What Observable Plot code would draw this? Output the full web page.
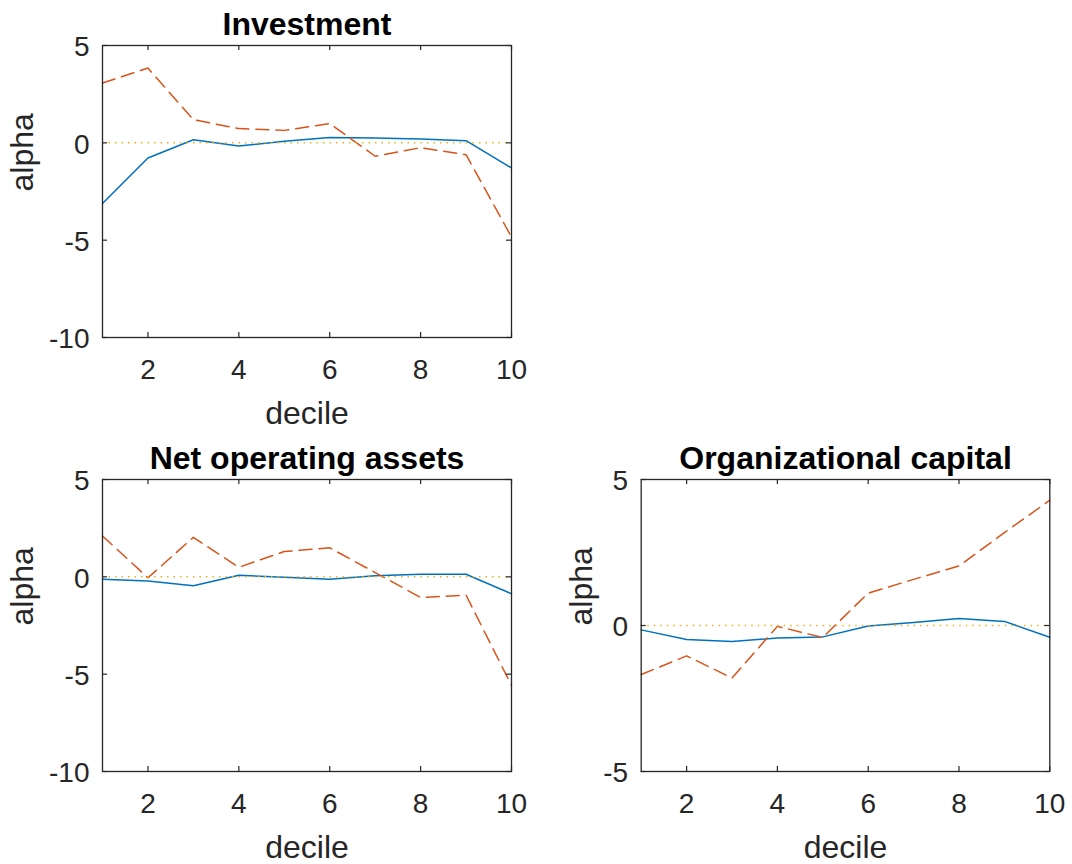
<!DOCTYPE html>
<html>
<head>
<meta charset="utf-8">
<script src="https://cdn.jsdelivr.net/npm/d3@7"></script>
<script src="https://cdn.jsdelivr.net/npm/@observablehq/plot@0.6"></script>
<style>
  html, body { margin: 0; padding: 0; background: #fff; }
  #wrap { position: relative; width: 1072px; height: 864px; background: #fff; overflow: hidden; }
  #wrap > div { position: absolute; }
</style>
</head>
<body>
<div id="wrap">
  <div id="p1" style="left:0px; top:0px;"></div>
  <div id="p2" style="left:0px; top:432px;"></div>
  <div id="p3" style="left:536px; top:432px;"></div>
</div>
<script>
// ---- data ----
const deciles = [1, 2, 3, 4, 5, 6, 7, 8, 9, 10];
const xTicks = [2, 4, 6, 8, 10];

const titles = ["Investment", "Net operating assets", "Organizational capital"];
const xLabel = "decile";
const yLabel = "alpha";

const yTicksWide = [-10, -5, 0, 5];
const yTicksNarrow = [-5, 0, 5];

// Investment
const investmentSolid  = [-3.12, -0.78, 0.16, -0.16, 0.08, 0.27, 0.25, 0.20, 0.11, -1.29];
const investmentDashed = [3.07, 3.84, 1.19, 0.73, 0.64, 0.99, -0.69, -0.25, -0.61, -4.84];

// Net operating assets
const noaSolid  = [-0.12, -0.21, -0.46, 0.08, -0.02, -0.12, 0.05, 0.13, 0.13, -0.87];
const noaDashed = [2.10, -0.05, 2.03, 0.49, 1.30, 1.49, 0.22, -1.06, -0.94, -5.58];

// Organizational capital
const ocSolid  = [-0.15, -0.48, -0.55, -0.43, -0.39, -0.02, 0.10, 0.24, 0.14, -0.40];
const ocDashed = [-1.68, -1.04, -1.80, -0.03, -0.41, 1.11, 1.58, 2.04, 3.18, 4.29];

// ---- styles ----
const BLUE = "#0072BD", ORANGE = "#D95319", YELLOW = "#EDB120", AX = "#262626";
const FONT = "'Liberation Sans', Arial, Helvetica, sans-serif";

function panel(el, cfg) {
  const fw = cfg.width - cfg.ml - cfg.mr;   // frame width
  const fh = cfg.height - cfg.mt - cfg.mb;  // frame height
  const solid = deciles.map((d, i) => ({x: d, y: cfg.solid[i]}));
  const dashed = deciles.map((d, i) => ({x: d, y: cfg.dashed[i]}));
  const tk = 5;
  const chart = Plot.plot({
    width: cfg.width,
    height: cfg.height,
    marginLeft: cfg.ml, marginRight: cfg.mr, marginTop: cfg.mt, marginBottom: cfg.mb,
    style: {fontFamily: FONT, color: AX, background: "transparent", overflow: "visible"},
    x: {domain: [1, 10], axis: null},
    y: {domain: cfg.yDomain, axis: null},
    marks: [
      Plot.line(solid, {x: "x", y: "y", stroke: BLUE, strokeWidth: 1.5}),
      Plot.line(dashed, {x: "x", y: "y", stroke: ORANGE, strokeWidth: 1.5, strokeDasharray: "13,7"}),
      Plot.ruleY([0], {stroke: YELLOW, strokeWidth: 1.5, strokeDasharray: "1.5,5"}),
      // inward ticks (box style)
      Plot.tickX(xTicks, {x: d => d, stroke: AX, strokeWidth: 1.2, insetTop: fh - tk}),
      Plot.tickX(xTicks, {x: d => d, stroke: AX, strokeWidth: 1.2, insetBottom: fh - tk}),
      Plot.tickY(cfg.yTicks, {y: d => d, stroke: AX, strokeWidth: 1.2, insetRight: fw - tk}),
      Plot.tickY(cfg.yTicks, {y: d => d, stroke: AX, strokeWidth: 1.2, insetLeft: fw - tk}),
      Plot.frame({stroke: AX, strokeWidth: 1.3}),
      // tick labels
      Plot.axisX({anchor: "bottom", ticks: xTicks, tickSize: 0, tickPadding: 22, fontSize: 28,
                  tickFormat: d => String(d), label: null, fill: AX}),
      Plot.axisY({anchor: "left", ticks: cfg.yTicks, tickSize: 0, tickPadding: 13, fontSize: 28,
                  tickFormat: d => String(d), label: null, fill: AX, dy: 2}),
      // title and axis labels
      Plot.text([cfg.title], {text: d => d, frameAnchor: "top", lineAnchor: "middle", dy: -21,
                 fontSize: 32, fontWeight: "bold", fill: "#000"}),
      Plot.text([xLabel], {text: d => d, frameAnchor: "bottom", lineAnchor: "middle", dy: 76,
                 fontSize: 32, fill: AX}),
      Plot.text([yLabel], {text: d => d, frameAnchor: "left", lineAnchor: "middle", rotate: -90,
                 dx: cfg.ylabDx, fontSize: 32, fill: AX})
    ]
  });
  document.getElementById(el).appendChild(chart);
}

panel("p1", {
  width: 540, height: 432, ml: 102, mr: 29, mt: 45, mb: 95,
  yDomain: [-10, 5], yTicks: yTicksWide, title: titles[0],
  solid: investmentSolid, dashed: investmentDashed, ylabDx: -80
});
panel("p2", {
  width: 540, height: 432, ml: 102, mr: 29, mt: 47, mb: 93,
  yDomain: [-10, 5], yTicks: yTicksWide, title: titles[1],
  solid: noaSolid, dashed: noaDashed, ylabDx: -80
});
panel("p3", {
  width: 536, height: 432, ml: 104.7, mr: 22.7, mt: 47, mb: 93,
  yDomain: [-5, 5], yTicks: yTicksNarrow, title: titles[2],
  solid: ocSolid, dashed: ocDashed, ylabDx: -59
});
</script>
</body>
</html>
